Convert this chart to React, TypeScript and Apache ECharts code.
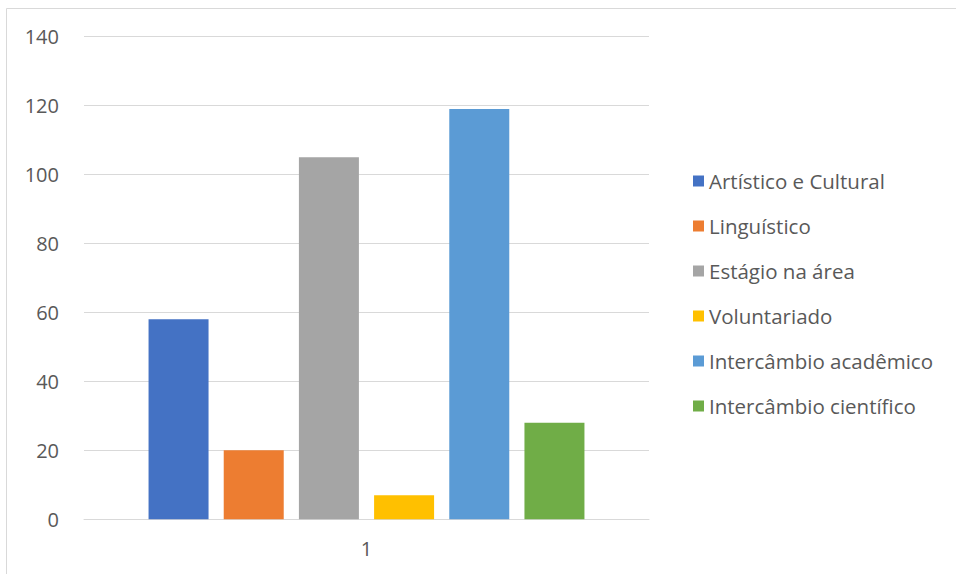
import React, { useEffect, useRef } from "react";
import * as echarts from "echarts";

const categories = ["1"];
const seriesNames = [
  "Artístico e Cultural",
  "Linguístico",
  "Estágio na área",
  "Voluntariado",
  "Intercâmbio acadêmico",
  "Intercâmbio científico",
];
const seriesValues = [58, 20, 105, 7, 119, 28];
const seriesColors = ["#4472C4", "#ED7D31", "#A5A5A5", "#FFC000", "#5B9BD5", "#70AD47"];
const yTicks = { min: 0, max: 140, interval: 20 };

const FONT = "'Open Sans', sans-serif";

export default function App() {
  const ref = useRef<HTMLDivElement>(null);
  useEffect(() => {
    document.body.style.margin = "0";
    const chart = echarts.init(ref.current!, null, { renderer: "svg" });
    chart.setOption({
      animation: false,
      backgroundColor: "#ffffff",
      textStyle: { fontFamily: FONT },
      graphic: [
        {
          type: "rect",
          shape: { x: 6.5, y: 8.5, width: 1000, height: 700 },
          style: { fill: "none", stroke: "#d9d9d9", lineWidth: 1 },
          silent: true,
          z: -1,
        },
      ],
      grid: { left: 84, right: 307, top: 36.5, bottom: 54.7, containLabel: false },
      legend: {
        orient: "vertical",
        left: 688,
        top: 165,
        itemWidth: 11,
        itemHeight: 11,
        itemGap: 23,
        icon: "rect",
        textStyle: { color: "#595959", fontSize: 20.5, fontFamily: FONT, lineHeight: 22 },
        data: seriesNames,
      },
      xAxis: {
        type: "category",
        data: categories,
        axisLine: { lineStyle: { color: "#d9d9d9", width: 1 } },
        axisTick: { show: false },
        axisLabel: { color: "#595959", fontSize: 20, margin: 19, fontFamily: FONT },
      },
      yAxis: {
        type: "value",
        min: yTicks.min,
        max: yTicks.max,
        interval: yTicks.interval,
        axisLine: { show: false },
        axisTick: { show: false },
        splitLine: { lineStyle: { color: "#d9d9d9", width: 1 } },
        axisLabel: { color: "#595959", fontSize: 20, margin: 25, fontFamily: FONT, padding: [0, 0, 3, 0] },
      },
      series: seriesNames.map((name, i) => ({
        name,
        type: "bar",
        data: [seriesValues[i]],
        barWidth: 60,
        barGap: "25.3%",
        itemStyle: { color: seriesColors[i] },
      })),
    });
    return () => chart.dispose();
  }, []);
  return <div ref={ref} style={{ width: 956, height: 574 }} />;
}
